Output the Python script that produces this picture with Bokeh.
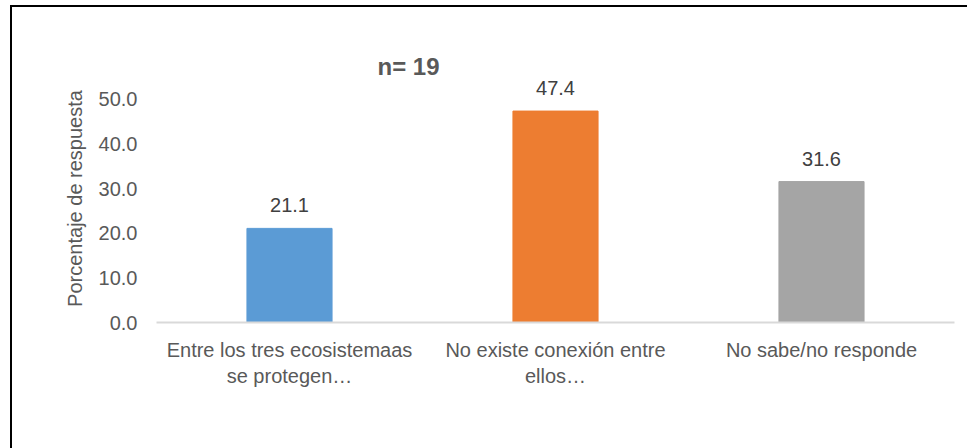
from bokeh.plotting import figure
from bokeh.models import (ColumnDataSource, LabelSet, FactorRange,
                          Range1d, FixedTicker, NumeralTickFormatter)
from bokeh.core.properties import value
from bokeh.embed import file_html
from bokeh.resources import INLINE

categories = ["Entre los tres ecosistemaas\nse protegen…",
              "No existe conexión entre\nellos…",
              "No sabe/no responde"]
values = [21.1, 47.4, 31.6]
colors = ["#5B9BD5", "#ED7D31", "#A5A5A5"]
y_ticks = [0, 10, 20, 30, 40, 50]
title_text = "n= 19"
y_label = "Porcentaje de respuesta"

FONT = "Liberation Sans"

src = ColumnDataSource(dict(cat=categories, val=values, color=colors,
                            label=[f"{v:.1f}" for v in values]))

p = figure(width=958, height=443, x_range=FactorRange(*categories),
           y_range=Range1d(0, 55.6), output_backend="svg", toolbar_location=None,
           min_border_left=144, min_border_right=16, min_border_top=67,
           min_border_bottom=128)
p.margin = (5, 0, 0, 10)
p.styles = {"border-left": "2px solid black", "border-top": "2px solid black"}
p.outline_line_color = None
p.background_fill_color = "white"
p.border_fill_color = "white"
p.xgrid.grid_line_color = None
p.ygrid.grid_line_color = None

p.title.text = title_text
p.title.align = "left"
p.title.offset = 221
p.title.text_font = FONT
p.title.text_font_size = "24px"
p.title.text_font_style = "bold"
p.title.text_color = "#595959"
p.title.standoff = -10

p.vbar(x="cat", top="val", width=0.32, color="color", source=src)

labels = LabelSet(x="cat", y="val", text="label", source=src, y_offset=16,
                  text_align="center", text_baseline="alphabetic",
                  text_font=value(FONT), text_font_size="20px",
                  text_color="#404040")
p.add_layout(labels)

ya = p.yaxis[0]
ya.ticker = FixedTicker(ticks=y_ticks)
ya.formatter = NumeralTickFormatter(format="0.0")
ya.axis_line_color = None
ya.major_tick_line_color = None
ya.minor_tick_line_color = None
ya.major_tick_out = 0
ya.major_label_standoff = 19
ya.major_label_text_font = FONT
ya.major_label_text_font_size = "20px"
ya.major_label_text_color = "#595959"
ya.axis_label = y_label
ya.axis_label_text_font = FONT
ya.axis_label_text_font_size = "20px"
ya.axis_label_text_font_style = "normal"
ya.axis_label_text_color = "#595959"
ya.axis_label_standoff = 10

xa = p.xaxis[0]
xa.axis_line_color = "#D9D9D9"
xa.axis_line_width = 2
xa.major_tick_line_color = None
xa.minor_tick_line_color = None
xa.major_tick_out = 0
xa.major_label_standoff = 16
xa.major_label_text_font = FONT
xa.major_label_text_font_size = "20px"
xa.major_label_text_color = "#595959"

open("out.html", "w").write(file_html(p, INLINE))
